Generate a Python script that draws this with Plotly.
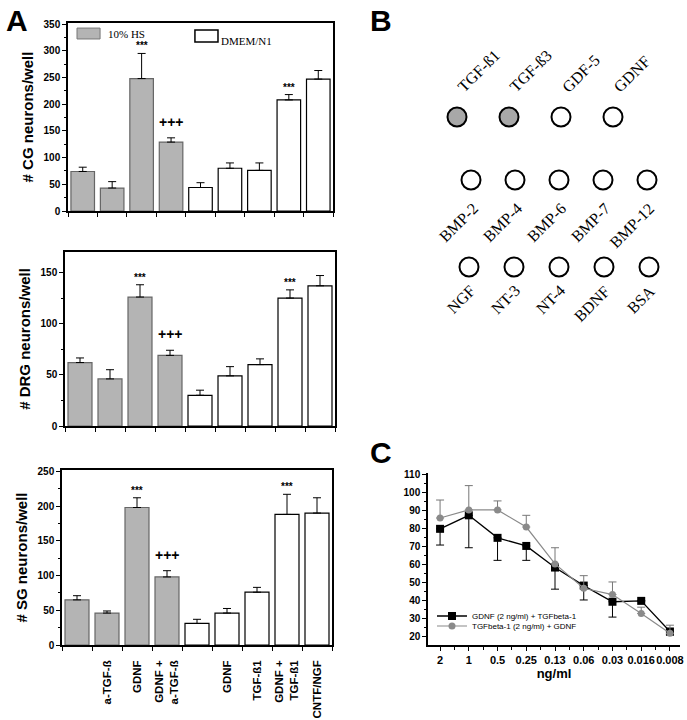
import plotly.graph_objects as go

# ---- panel A: neuron survival (mean, sem) ----
treatments = ["", "a-TGF-ß", "GDNF", "GDNF +<br>a-TGF-ß", "",
              "GDNF", "TGF-ß1", "GDNF +<br>TGF-ß1", "CNTF/NGF"]
medium = ["HS", "HS", "HS", "HS", "N1", "N1", "N1", "N1", "N1"]
marks = ["", "", "***", "+++", "", "", "", "***", ""]

cg_mean = [74, 43, 248, 129, 44, 80, 76, 208, 247]
cg_sem = [8, 12, 47, 8, 9, 10, 14, 10, 16]
drg_mean = [62, 46, 126, 69, 30, 49, 60, 125, 137]
drg_sem = [4.5, 9, 12, 5, 5, 9, 5.6, 8, 10]
sg_mean = [65, 46, 198, 98, 31, 46, 76, 188, 190]
sg_sem = [6, 3, 14, 9, 6, 6.6, 7, 29, 22]

# ---- panel B: dot blot ----
blot_row1 = ["TGF-ß1", "TGF-ß3", "GDF-5", "GDNF"]
blot_row1_bound = [1, 1, 0, 0]
blot_row2 = ["BMP-2", "BMP-4", "BMP-6", "BMP-7", "BMP-12"]
blot_row2_bound = [0, 0, 0, 0, 0]
blot_row3 = ["NGF", "NT-3", "NT-4", "BDNF", "BSA"]
blot_row3_bound = [0, 0, 0, 0, 0]

# ---- panel C: dose response ----
doses = ["2", "1", "0.5", "0.25", "0.13", "0.06", "0.03", "0.016", "0.008"]
gdnf_tgf = [80, 87.5, 75, 70.5, 58.5, 48.5, 39.5, 40, 23]
gdnf_tgf_err = [9, 18, 12.5, 8, 12, 8, 8.5, 0, 2]
tgf_gdnf = [86, 90.5, 90.5, 81, 60.5, 47, 43.5, 33, 22]
tgf_gdnf_err = [10, 13.5, 5, 6.5, 9, 7, 7, 3.5, 4.5]

W, H = 687, 720
ARIAL = "Liberation Sans, Arial, sans-serif"
TIMES = "Liberation Serif, Times New Roman, serif"
GRAY = "#b4b4b4"


def px_x(a, b):
    return [a / W, b / W]


def px_y(top, bottom):
    return [1 - bottom / H, 1 - top / H]


fig = go.Figure()

n = len(treatments)
idx = list(range(n))
fills = [GRAY if m == "HS" else "white" for m in medium]
edges = ["#666666" if m == "HS" else "black" for m in medium]

panels = [
    ("", cg_mean, cg_sem, "# CG neurons/well", [0, 352], 50, px_x(68, 333), px_y(23, 211)),
    ("2", drg_mean, drg_sem, "# DRG neurons/well", [0, 170], 50, px_x(65, 335), px_y(252, 426)),
    ("3", sg_mean, sg_sem, "# SG neurons/well", [0, 252], 50, px_x(62, 332), px_y(470, 645)),
]

annotations = []
for k, (sfx, mean, sem, title, yr, dt, xd, yd) in enumerate(panels):
    fig.add_trace(go.Bar(
        x=idx, y=mean, width=0.8,
        marker=dict(color=fills, line=dict(color=edges, width=1.2)),
        error_y=dict(type="data", symmetric=False, array=sem, arrayminus=[0] * n,
                     color="black", thickness=1, width=4),
        xaxis="x" + sfx, yaxis="y" + sfx, showlegend=False,
    ))
    last = k == 2
    fig.layout["xaxis" + sfx] = dict(
        domain=xd, range=[-0.5, n - 0.5], anchor="y" + sfx, automargin=False,
        showline=True, linecolor="black", linewidth=1.5, mirror=True,
        tickmode="array", tickvals=idx, ticktext=treatments if last else [""] * n,
        ticks="", showticklabels=last, tickangle=-90, ticklabelstandoff=9,
        tickfont=dict(family=ARIAL, size=11.5, color="black", weight="bold"),
        minor=dict(tickmode="array", tickvals=[i - 0.5 for i in range(n + 1)],
                   ticks="outside", ticklen=4, tickcolor="black", showgrid=False),
        showgrid=False, zeroline=False, fixedrange=True,
    )
    fig.layout["yaxis" + sfx] = dict(
        domain=yd, range=yr, anchor="x" + sfx, automargin=False,
        showline=True, linecolor="black", linewidth=1.5, mirror=True,
        ticks="outside", ticklen=4, dtick=dt, tickcolor="black",
        minor=dict(ticks="outside", ticklen=2, dtick=dt / 2, tickcolor="black"),
        tickfont=dict(family=ARIAL, size=10, color="black", weight="bold"),
        title=dict(text=title, standoff=6,
                   font=dict(family=ARIAL, size=15, color="black", weight="bold")),
        showgrid=False, zeroline=False,
    )
    for i, m in enumerate(marks):
        if m:
            annotations.append(dict(
                x=i, y=mean[i] + sem[i], xref="x" + sfx, yref="y" + sfx,
                text=m, showarrow=False, yanchor="bottom",
                yshift=0 if m == "***" else 6,
                font=dict(family=ARIAL, size=10 if m == "***" else 14,
                          color="black", weight="bold"),
            ))

# legend for panel A drawn as boxes with labels
fig.add_shape(type="rect", xref="x domain", yref="y domain",
              x0=0.034, x1=0.121, y0=0.915, y1=0.973,
              fillcolor=GRAY, line=dict(color="#777777", width=1))
fig.add_shape(type="rect", xref="x domain", yref="y domain",
              x0=0.479, x1=0.566, y0=0.899, y1=0.963,
              fillcolor="white", line=dict(color="black", width=1.5))
annotations.append(dict(x=0.145, y=0.944, xref="x domain", yref="y domain",
                        text="10% HS", showarrow=False, xanchor="left", yanchor="middle",
                        font=dict(family=TIMES, size=11, color="black")))
annotations.append(dict(x=0.57, y=0.905, xref="x domain", yref="y domain",
                        text="DMEM/N1", showarrow=False, xanchor="left", yanchor="middle",
                        font=dict(family=TIMES, size=11, color="black")))

# ---- panel B ----
rows = [
    (blot_row1, blot_row1_bound, 457, 52, 117, "left", "bottom", -5, 19),
    (blot_row2, blot_row2_bound, 471, 44, 180, "right", "top", 13, -17),
    (blot_row3, blot_row3_bound, 469, 45, 267, "right", "top", 12, -12),
]
for names, bound, x0, dx, yrow, xa, ya, xs, ys in rows:
    xs_ = [x0 + i * dx for i in range(len(names))]
    fig.add_trace(go.Scatter(
        x=xs_, y=[yrow] * len(names), mode="markers",
        marker=dict(size=19, color=["#a8a8a8" if b else "white" for b in bound],
                    line=dict(color="black", width=2)),
        xaxis="x5", yaxis="y5", showlegend=False, hoverinfo="text", text=names,
    ))
    for xv, name in zip(xs_, names):
        annotations.append(dict(
            x=xv, y=yrow, xref="x5", yref="y5", text=name, showarrow=False,
            textangle=-45, xanchor=xa, yanchor=ya, xshift=xs, yshift=ys,
            font=dict(family=TIMES, size=16, color="black"),
        ))

fig.layout.xaxis5 = dict(domain=px_x(420, 687), range=[420, 687], visible=False,
                         anchor="y5", fixedrange=True, automargin=False)
fig.layout.yaxis5 = dict(domain=px_y(30, 340), range=[340, 30], visible=False,
                         anchor="x5", fixedrange=True, automargin=False)

# ---- panel C ----
didx = list(range(len(doses)))
fig.add_trace(go.Scatter(
    x=didx, y=gdnf_tgf, mode="lines+markers", name="GDNF (2 ng/ml) + TGFbeta-1",
    line=dict(color="black", width=1.3),
    marker=dict(symbol="square", size=8, color="black"),
    error_y=dict(type="data", symmetric=False, array=[0] * len(doses),
                 arrayminus=gdnf_tgf_err, color="black", thickness=1, width=4),
    xaxis="x6", yaxis="y6", legend="legend",
))
fig.add_trace(go.Scatter(
    x=didx, y=tgf_gdnf, mode="lines+markers", name="TGFbeta-1 (2 ng/ml) + GDNF",
    line=dict(color="#8a8a8a", width=1.2),
    marker=dict(symbol="circle", size=7, color="#8a8a8a"),
    error_y=dict(type="data", symmetric=False, array=tgf_gdnf_err,
                 arrayminus=[0] * len(doses), color="#777777", thickness=1, width=4),
    xaxis="x6", yaxis="y6", legend="legend2",
))
fig.layout.xaxis6 = dict(
    domain=px_x(428, 680), range=[-0.42, 8.35], anchor="y6", automargin=False,
    showline=True, linecolor="black", linewidth=1.5,
    tickmode="array", tickvals=didx, ticktext=doses, tickangle=0,
    ticks="outside", ticklen=4, tickcolor="black",
    minor=dict(tickmode="array", tickvals=[i + 0.5 for i in didx[:-1]],
               ticks="outside", ticklen=3, tickcolor="black"),
    tickfont=dict(family=ARIAL, size=11, color="black", weight="bold"),
    title=dict(text="ng/ml", standoff=2,
               font=dict(family=ARIAL, size=13, color="black", weight="bold")),
    showgrid=False, zeroline=False,
)
fig.layout.yaxis6 = dict(
    domain=px_y(473, 645), range=[15.5, 111], anchor="x6", automargin=False,
    showline=True, linecolor="black", linewidth=1.5,
    dtick=10, ticks="outside", ticklen=4, tickcolor="black",
    minor=dict(ticks="outside", ticklen=2, dtick=5, tickcolor="black"),
    tickfont=dict(family=ARIAL, size=10, color="black", weight="bold"),
    showgrid=False, zeroline=False,
)

# panel letters
for letter, lx, ly in [("A", 17, 20), ("B", 381, 20), ("C", 381, 452)]:
    annotations.append(dict(x=lx / W, y=1 - ly / H, xref="paper", yref="paper",
                            text=letter, showarrow=False, xanchor="center", yanchor="middle",
                            font=dict(family=ARIAL, size=30, color="black", weight="bold")))

legend_style = dict(xanchor="left", yanchor="middle", bgcolor="rgba(0,0,0,0)",
                    itemwidth=30, tracegroupgap=0,
                    font=dict(family=ARIAL, size=8, color="black"))

fig.update_layout(
    width=W, height=H, margin=dict(l=0, r=0, t=0, b=0, autoexpand=False),
    paper_bgcolor="white", plot_bgcolor="white",
    annotations=annotations,
    legend=dict(x=432 / W, y=1 - 616 / H, **legend_style),
    legend2=dict(x=432 / W, y=1 - 626 / H, **legend_style),
    bargap=0.2,
)

fig.write_html("out.html", config={"displayModeBar": False},
               post_script="document.body.style.margin='0px';")
